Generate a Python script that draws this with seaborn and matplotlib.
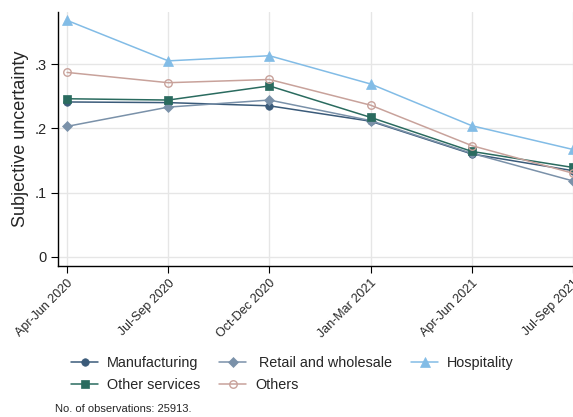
import matplotlib
matplotlib.use("Agg")
import matplotlib.pyplot as plt
import seaborn as sns
import pandas as pd

# Quarterly subjective uncertainty by sector
quarters = ["Apr-Jun 2020", "Jul-Sep 2020", "Oct-Dec 2020",
            "Jan-Mar 2021", "Apr-Jun 2021", "Jul-Sep 2021"]
manufacturing = [0.241, 0.240, 0.235, 0.211, 0.160, 0.134]
retail = [0.203, 0.233, 0.244, 0.212, 0.161, 0.118]
hospitality = [0.368, 0.305, 0.313, 0.269, 0.204, 0.167]
other_services = [0.246, 0.244, 0.266, 0.217, 0.164, 0.139]
others = [0.287, 0.271, 0.276, 0.236, 0.173, 0.130]
n_obs = 25913

series = [
    ("Manufacturing", manufacturing, "#3b5b7a", "o", True),
    (" Retail and wholesale", retail, "#7a91a9", "D", True),
    ("Hospitality", hospitality, "#82bce6", "^", True),
    ("Other services", other_services, "#2a6b5f", "s", True),
    ("Others", others, "#c8a29b", "o", False),
]

sns.set_style("white")
plt.rcParams["font.family"] = ["Liberation Sans", "DejaVu Sans"]

fig = plt.figure(figsize=(5.73, 4.17), dpi=100)
ax = fig.add_axes([0.1012, 0.362, 0.8988, 0.610])

xpos = list(range(len(quarters)))
handles = {}
sizes = {"o": 5.4, "D": 5.0, "^": 7.2, "s": 6.0}
for name, vals, color, marker, filled in series:
    df = pd.DataFrame({"x": xpos, "y": vals})
    sns.lineplot(data=df, x="x", y="y", ax=ax, color=color, lw=1.1,
                 marker=marker, markersize=sizes[marker],
                 markerfacecolor=color if filled else "none",
                 markeredgecolor=color, markeredgewidth=1.0 if not filled else 0.5,
                 clip_on=False, zorder=3)
    handles[name] = ax.lines[-1]

ax.set_xlim(-0.09, 5.0)
ax.set_ylim(-0.0145, 0.3816)
ax.set_xticks(xpos)
ax.set_xticklabels(quarters, rotation=45, ha="right", rotation_mode="anchor",
                   fontsize=9)
ax.set_yticks([0, 0.1, 0.2, 0.3])
ax.set_yticklabels(["0", ".1", ".2", ".3"], fontsize=10.5)
ax.tick_params(axis="both", length=5, width=0.8, color="black", direction="out",
               bottom=True, left=True, pad=3)
ax.grid(True, color="#e6e6e6", lw=1.0)
ax.set_axisbelow(True)
for s in ["top", "right"]:
    ax.spines[s].set_visible(False)
for s in ["left", "bottom"]:
    ax.spines[s].set_color("black")
    ax.spines[s].set_linewidth(1.0)
ax.set_xlabel("")
ax.set_ylabel("Subjective uncertainty", fontsize=13)

order = ["Manufacturing", "Other services", " Retail and wholesale", "Others", "Hospitality"]
fig.legend([handles[k] for k in order], order, ncol=3, loc="center",
           bbox_to_anchor=(0.51, 0.103), frameon=False, fontsize=10.4,
           handlelength=1.9, columnspacing=1.3, handletextpad=0.6,
           labelspacing=0.5)

fig.text(0.096, 0.012, f"No. of observations: {n_obs}.", fontsize=8)

fig.savefig("out.png", dpi=100)
